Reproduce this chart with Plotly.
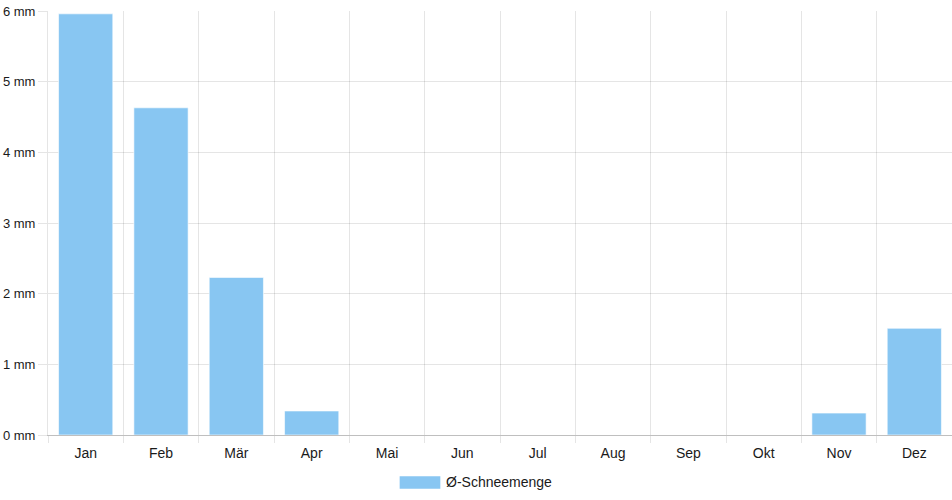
import plotly.graph_objects as go

months = ["Jan", "Feb", "Mär", "Apr", "Mai", "Jun", "Jul", "Aug", "Sep", "Okt", "Nov", "Dez"]
snow_mm = [5.96, 4.63, 2.23, 0.34, 0, 0, 0, 0, 0, 0, 0.31, 1.51]
series_name = "Ø-Schneemenge"
y_ticks = [0, 1, 2, 3, 4, 5, 6]

bar_color = "rgb(136,198,242)"
grid = "rgba(0,0,0,0.1)"
txt = "#1a1a1a"

fig = go.Figure()
fig.add_trace(go.Bar(
    x=months,
    y=snow_mm,
    name=series_name,
    marker=dict(color=bar_color, line=dict(color="rgba(255,255,255,0.6)", width=1)),
    width=0.72,
    showlegend=False,
))

# legend drawn by hand to get the wide Chart.js-style box
fig.add_shape(type="rect", xref="paper", yref="paper",
              x0=0.389, x1=0.434, y0=-0.127, y1=-0.097,
              fillcolor=bar_color, line=dict(width=0))
fig.add_annotation(text=series_name, xref="paper", yref="paper",
                   x=0.438, y=-0.112, xanchor="left", yanchor="middle",
                   showarrow=False, font=dict(size=14, color=txt))

fig.update_xaxes(
    type="category",
    tickson="boundaries",
    ticks="outside", ticklen=7, tickcolor=grid,
    ticklabelstandoff=5,
    showgrid=True, gridcolor=grid,
    showline=True, linecolor="rgba(0,0,0,0.25)",
    tickfont=dict(size=14, color=txt),
    range=[-0.5, 11.5],
    automargin=False,
)
fig.update_yaxes(
    range=[0, 6],
    tickvals=y_ticks,
    ticktext=[f"{v} mm" for v in y_ticks],
    ticks="outside", ticklen=9, tickcolor=grid,
    ticklabelstandoff=0,
    showgrid=True, gridcolor=grid,
    zeroline=False,
    showline=True, linecolor=grid,
    tickfont=dict(size=13, color=txt),
    automargin=False,
)

fig.update_layout(
    width=952, height=500,
    margin=dict(l=48, r=0, t=11, b=65),
    paper_bgcolor="white", plot_bgcolor="white",
    font=dict(family="Liberation Sans, Arial, sans-serif", size=14, color=txt),
)

# drop the default page margin so the figure sits at the window's corner
fig.write_html("out.html", config={"displayModeBar": False},
               post_script="document.body.style.margin='0';")
